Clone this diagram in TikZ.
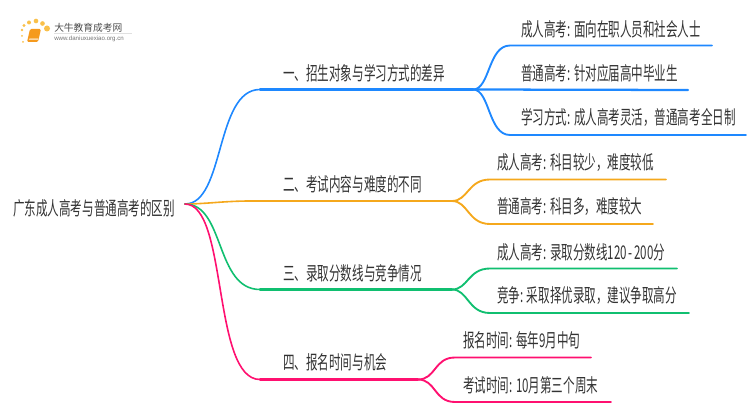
\documentclass[tikz,border=0pt]{standalone}
\usepackage{fontspec}
\setmainfont{Liberation Sans}
\newfontfamily\cjk{Noto Sans CJK SC}
\usetikzlibrary{arrows.meta}
\definecolor{blue-c}{HTML}{1E88FF}
\definecolor{orange-c}{HTML}{F5A81C}
\definecolor{green-c}{HTML}{10BF70}
\definecolor{pink-c}{HTML}{FF1070}
\definecolor{book-c}{HTML}{F59A1E}
\definecolor{dot-c}{HTML}{F9C04A}
\tikzstyle{map-text}=[anchor=west,inner sep=0pt,xscale=0.61,font=\cjk\fontsize{14.2pt}{16pt}\selectfont,text=black!80]
\tikzstyle{curve-line}=[line width=1.2pt,line cap=round]
\tikzstyle{bar-line}=[line width=1.7pt,line cap=round]
\tikzstyle{fork-line}=[line width=1.4pt,line cap=round]
\tikzstyle{sun-dot}=[fill=dot-c,circle,inner sep=0pt,minimum size=3pt]

\begin{document}
\begin{tikzpicture}[x=0.75pt,y=-0.75pt]
	\useasboundingbox (0,0) rectangle (750,410);
	\begin{scope}
	\node (root)[map-text] at (13,208) {广东成人高考与普通高考的区别};
	\node (t1)[map-text] at (283,73.5) {一、招生对象与学习方式的差异};
	\node (t2)[map-text] at (283,184) {二、考试内容与难度的不同};
	\node (t3)[map-text] at (283,273) {三、录取分数线与竞争情况};
	\node (t4)[map-text] at (283,362.5) {四、报名时间与机会};

	\node (a1)[map-text] at (521,29.5) {成人高考: 面向在职人员和社会人士};
	\node (a2)[map-text] at (521,73) {普通高考: 针对应届高中毕业生};
	\node (a3)[map-text] at (521,117.5) {学习方式: 成人高考灵活，普通高考全日制};
	\node (b1)[map-text] at (497,163) {成人高考: 科目较少，难度较低};
	\node (b2)[map-text] at (497,207) {普通高考: 科目多，难度较大};
	\node (c1)[map-text] at (497,252) {成人高考: 录取分数线120\hspace{2pt}-\hspace{2pt}200分};
	\node (c2)[map-text] at (497,296) {竞争: 采取择优录取，建议争取高分};
	\node (d1)[map-text] at (463,340) {报名时间: 每年9月中旬};
	\node (d2)[map-text] at (463,385) {考试时间: 10月第三个周末};
	\end{scope}

	% forks and bar ends
	\coordinate (o) at (185,204);
	\coordinate (f1) at (473,89.5);
	\coordinate (f2) at (452,201);
	\coordinate (f3) at (452,289.5);
	\coordinate (f4) at (418,379.5);
	\coordinate (e1) at (712,45.5);
	\coordinate (e2) at (688,90);
	\coordinate (e3) at (746,135);
	\coordinate (e4) at (666,179.5);
	\coordinate (e5) at (653,224);
	\coordinate (e6) at (677,268.5);
	\coordinate (e7) at (689,313);
	\coordinate (e8) at (591,357.5);
	\coordinate (e9) at (611,402);

	\draw[curve-line,blue-c] (o) .. controls (225,204) and (215,89.5) .. (260,89.5);
	\draw[bar-line,blue-c] (260,89.5) -- (f1);
	\draw[fork-line,blue-c] (f1) .. controls (490,89.5) and (488,45.5) .. (510,45.5) -- (e1);
	\draw[bar-line,blue-c] (f1) -- (e2);
	\draw[fork-line,blue-c] (f1) .. controls (490,89.5) and (488,135) .. (510,135) -- (e3);

	\draw[curve-line,orange-c] (o) .. controls (205,204) and (225,201) .. (250,201);
	\draw[bar-line,orange-c] (250,201) -- (f2);
	\draw[fork-line,orange-c] (f2) .. controls (468,201) and (468,179.5) .. (490,179.5) -- (e4);
	\draw[fork-line,orange-c] (f2) .. controls (468,201) and (468,224) .. (490,224) -- (e5);

	\draw[curve-line,green-c] (o) .. controls (225,204) and (215,289.5) .. (260,289.5);
	\draw[bar-line,green-c] (260,289.5) -- (f3);
	\draw[fork-line,green-c] (f3) .. controls (468,289.5) and (468,268.5) .. (490,268.5) -- (e6);
	\draw[fork-line,green-c] (f3) .. controls (468,289.5) and (468,313) .. (490,313) -- (e7);

	\draw[curve-line,pink-c] (o) .. controls (228,204) and (212,379.5) .. (260,379.5);
	\draw[bar-line,pink-c] (260,379.5) -- (f4);
	\draw[fork-line,pink-c] (f4) .. controls (436,379.5) and (434,357.5) .. (455,357.5) -- (e8);
	\draw[fork-line,pink-c] (f4) .. controls (436,379.5) and (434,402) .. (455,402) -- (e9);

	% logo
	\begin{scope}
	\node[sun-dot,minimum size=2pt] at (22,30) {};
	\node[sun-dot,minimum size=2.5pt] at (24,25.5) {};
	\node[sun-dot,minimum size=3pt] at (29,22.5) {};
	\node[sun-dot,minimum size=3.5pt] at (36,21) {};
	\node[sun-dot,minimum size=3.5pt] at (42.5,23.5) {};
	\node[sun-dot,minimum size=4.5pt] at (47,28.5) {};
	\node[sun-dot,minimum size=1.5pt] at (22,36) {};
	\node[sun-dot,minimum size=1.5pt] at (23,42) {};
	\fill[book-c,rounded corners=1pt] (30,29) -- (41,29) -- (38,42) -- (27,42) -- cycle;
	\fill[white,opacity=.6] (29.5,38.5) -- (38.5,38.5) -- (38,40) -- (29,40) -- cycle;
	\node (logo-name)[anchor=west,inner sep=0pt,font=\cjk\fontsize{7.3pt}{9pt}\selectfont,text=black!70] at (54,27.5) {大牛教育成考网};
	\node (logo-url)[anchor=west,inner sep=0pt,font=\fontsize{4.6pt}{6pt}\selectfont,text=black!55] at (54,38.5) {www.daniuxuexiao.org.cn};
	\fill[black!12] (54,33) rectangle (132,33.6);
	\end{scope}
\end{tikzpicture}
\end{document}
